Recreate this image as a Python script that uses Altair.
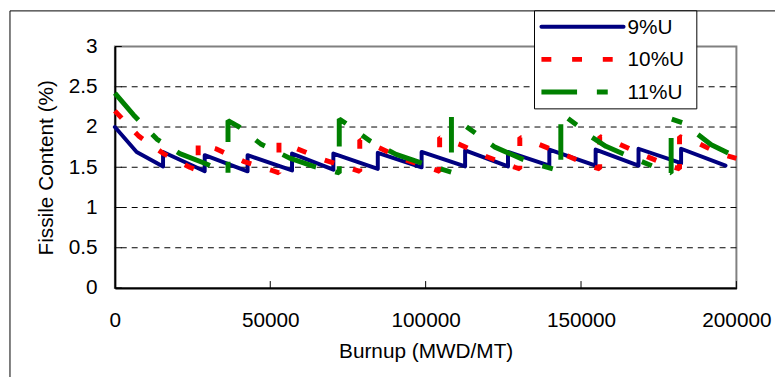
import altair as alt
import pandas as pd

# ---- data ----
series_names = ["9%U", "10%U", "11%U"]

blue_x = [0, 7000, 15500, 15500, 28900, 28900, 42700, 42700, 57000, 57000,
          70300, 70300, 84600, 84600, 98700, 98700, 112700, 112700, 126500, 126500,
          139800, 139800, 154700, 154700, 168500, 168500, 182200, 182200, 196500]
blue_y = [2.00, 1.69, 1.51, 1.69, 1.45, 1.65, 1.45, 1.65, 1.46, 1.67,
          1.47, 1.67, 1.48, 1.68, 1.50, 1.69, 1.51, 1.71, 1.51, 1.69,
          1.52, 1.72, 1.52, 1.72, 1.52, 1.73, 1.55, 1.73, 1.52]

red_x = [0, 7600, 15600, 24100, 26800, 26800, 32500, 41600, 50600, 52800,
         52800, 58600, 67500, 77100, 78800, 78800, 84600, 93600, 103000, 104500,
         104500, 110600, 119700, 128700, 130300, 130300, 136100, 145100, 154200, 156000,
         156000, 161100, 170100, 179100, 181700, 181700, 186000, 194500, 200000]
red_y = [2.20, 1.89, 1.67, 1.50, 1.46, 1.80, 1.73, 1.57, 1.46, 1.43,
         1.81, 1.73, 1.59, 1.47, 1.45, 1.84, 1.75, 1.59, 1.47, 1.45,
         1.87, 1.79, 1.63, 1.50, 1.48, 1.87, 1.79, 1.65, 1.50, 1.48,
         1.88, 1.81, 1.65, 1.51, 1.48, 1.88, 1.83, 1.67, 1.61]

green_x = [0, 6000, 13500, 20900, 28900, 36400, 36400, 40000, 46900, 56500,
           64000, 72200, 72200, 74500, 82000, 90500, 98900, 108300, 108300, 116500,
           122300, 133000, 143500, 143500, 148800, 152000, 158000, 165800, 176400, 179000,
           179000, 182800, 191900, 197700, 200000]
green_y = [2.42, 2.15, 1.85, 1.67, 1.55, 1.43, 2.08, 2.00, 1.79, 1.61,
           1.51, 1.43, 2.10, 2.04, 1.83, 1.66, 1.55, 1.44, 2.14, 1.91,
           1.75, 1.57, 1.45, 2.17, 2.02, 1.91, 1.76, 1.63, 1.46, 1.43,
           2.10, 2.05, 1.78, 1.67, 1.61]

x_ticks = [0, 50000, 100000, 150000, 200000]
y_ticks = [0, 0.5, 1, 1.5, 2, 2.5, 3]
grid_levels = [0.5, 1, 1.5, 2, 2.5]

FONT = "Liberation Sans"
colors = ["#000080", "#FF0000", "#008000"]


def series_df(xs, ys):
    return pd.DataFrame({"burnup": xs, "fissile": ys, "i": list(range(len(xs)))})


x_scale = alt.Scale(domain=[0, 200000], nice=False, zero=False)
y_scale = alt.Scale(domain=[0, 3], nice=False)

axis_style = dict(labelFont=FONT, labelFontSize=21, labelColor="black",
                  titleFont=FONT, titleFontSize=21, titleFontWeight="normal",
                  titleColor="black", domainColor="black", domainWidth=2,
                  ticks=False, tickSize=0, grid=False)

x_enc = alt.X("burnup:Q", scale=x_scale,
              axis=alt.Axis(title="Burnup (MWD/MT)", values=x_ticks, format="d",
                            labelFlush=False, labelPadding=22, titlePadding=10,
                            **axis_style))
y_enc = alt.Y("fissile:Q", scale=y_scale,
              axis=alt.Axis(title="Fissile Content (%)", values=y_ticks, format="~g",
                            labelPadding=18, titlePadding=12, **axis_style))

# gridlines
grid = alt.Chart(pd.DataFrame({"fissile": grid_levels})).mark_rule(
    color="black", strokeWidth=1, strokeDash=[6, 5]
).encode(y=y_enc)

# inward ticks
yticks = alt.Chart(pd.DataFrame({"fissile": y_ticks})).mark_rule(
    color="black", strokeWidth=1
).encode(y=y_enc, x=alt.value(0), x2=alt.value(7))
xticks = alt.Chart(pd.DataFrame({"burnup": x_ticks[1:]})).mark_rule(
    color="black", strokeWidth=1
).encode(x=x_enc, y=alt.value(237), y2=alt.value(244))

blue = alt.Chart(series_df(blue_x, blue_y)).mark_line(
    color=colors[0], strokeWidth=4, strokeJoin="round", strokeCap="round"
).encode(x=x_enc, y=y_enc, order=alt.Order("i:Q"))

red = alt.Chart(series_df(red_x, red_y)).mark_line(
    color=colors[1], strokeWidth=5, strokeDash=[10, 20], strokeJoin="bevel"
).encode(x=x_enc, y=y_enc, order=alt.Order("i:Q"))

green = alt.Chart(series_df(green_x, green_y)).mark_line(
    color=colors[2], strokeWidth=5, strokeDash=[36, 20, 11, 20], strokeJoin="bevel"
).encode(x=x_enc, y=y_enc, order=alt.Order("i:Q"))

# outer chart frame (left and top edges; the reference is cropped at right/bottom)
one = pd.DataFrame({"a": [0]})
frame_left = alt.Chart(one).mark_rule(color="black", strokeWidth=1).encode(
    x=alt.value(-106), y=alt.value(-36), y2=alt.value(400)
)
frame_top = alt.Chart(one).mark_rule(color="black", strokeWidth=1).encode(
    x=alt.value(-106), x2=alt.value(800), y=alt.value(-36)
)

# legend (drawn manually)
leg_box = alt.Chart(one).mark_rect(fill="white", stroke="black", strokeWidth=1).encode(
    x=alt.value(424), x2=alt.value(588), y=alt.value(-36), y2=alt.value(63)
)
leg_rows = [-20, 13, 46]
leg_dash = [None, [10, 21], [36, 20, 11, 20]]
leg_width = [4, 5, 5]
legend_layers = [leg_box]
for k in range(3):
    kw = dict(color=colors[k], strokeWidth=leg_width[k])
    if leg_dash[k] is not None:
        kw["strokeDash"] = leg_dash[k]
    else:
        kw["strokeCap"] = "round"
    legend_layers.append(
        alt.Chart(one).mark_rule(**kw).encode(
            x=alt.value(431), x2=alt.value(514), y=alt.value(leg_rows[k]))
    )
    legend_layers.append(
        alt.Chart(pd.DataFrame({"name": [series_names[k]]})).mark_text(
            align="left", baseline="middle", font=FONT, fontSize=21, color="black"
        ).encode(text="name:N", x=alt.value(518), y=alt.value(leg_rows[k] + 1))
    )

chart = alt.layer(
    grid, yticks, xticks, blue, red, green, frame_left, frame_top, *legend_layers
).properties(
    width=628, height=244,
    background="white",
    autosize=alt.AutoSizeParams(type="none"),
    padding={"left": 108, "top": 37, "right": 39, "bottom": 88},
).configure_view(
    stroke="#808080", strokeWidth=2
)

chart.save("out.html", embed_options={"renderer": "svg", "actions": False})
